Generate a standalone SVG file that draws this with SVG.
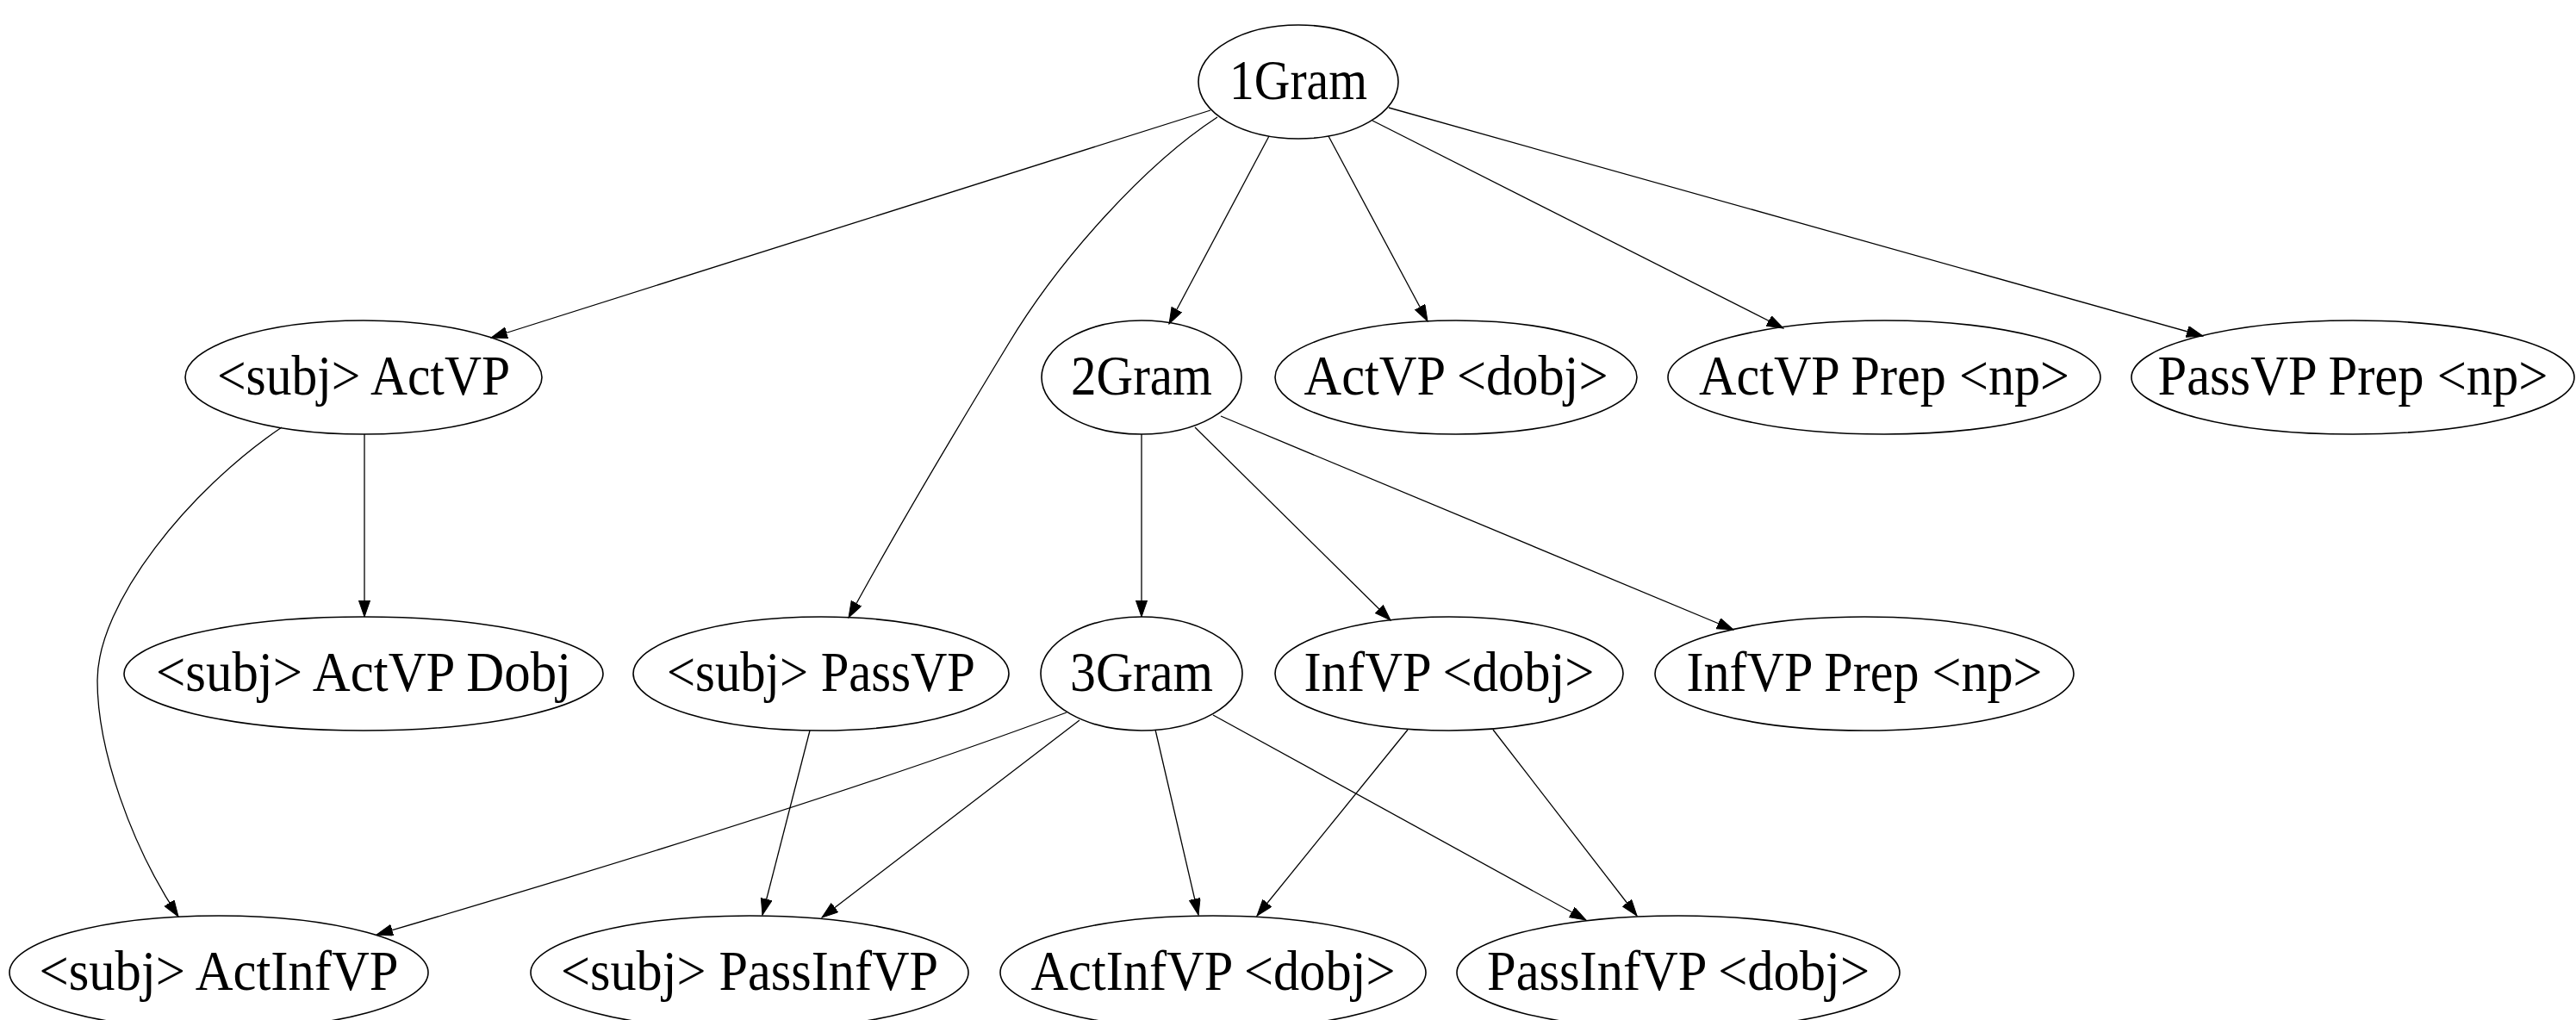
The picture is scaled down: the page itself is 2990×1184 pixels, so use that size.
<svg xmlns="http://www.w3.org/2000/svg" width="2990" height="1184" viewBox="0 0 2990 1184">
<style>
.n ellipse{fill:none;stroke:#000;stroke-width:1.6}
.n text{font-family:"Liberation Serif","Times New Roman",serif;font-size:65px;fill:#000;text-anchor:middle}
.e path{fill:none;stroke:#000;stroke-width:1.3;marker-end:url(#ah)}
</style>
<defs>
<marker id="ah" markerUnits="userSpaceOnUse" markerWidth="20" markerHeight="14" refX="19" refY="6.6" orient="auto">
<path d="M0,0 L19,6.6 L0,13.2 z" fill="#000" stroke="#000" stroke-width="1"/>
</marker>
</defs>
<rect width="2990" height="1184" fill="#fff"/>
<g id="edges" class="e">
<path d="M1405,128 L570,392"/>
<path d="M1413,136 C1330,190 1230,300 1170,400 C1100,515 1035,625 985,717"/>
<path d="M1473,158 L1357,376"/>
<path d="M1542,158 L1657,373"/>
<path d="M1593,140 L2070,381"/>
<path d="M1612,125 L2557,390"/>
<path d="M423,504 L423,716"/>
<path d="M327,496 C219,569 113,700 113,790 C113,870 152,981 207,1064"/>
<path d="M1325,504 L1325,716"/>
<path d="M1387,496 L1614,720"/>
<path d="M1417,483 L2012,731"/>
<path d="M940,848 L885,1062"/>
<path d="M1238,827 C988,920 693,1010 437,1085"/>
<path d="M1253,836 L954,1065"/>
<path d="M1341,847 L1391,1062"/>
<path d="M1408,830 L1841,1068"/>
<path d="M1634,847 L1459,1063"/>
<path d="M1733,847 L1900,1063"/>
</g>
<g id="n1gram" class="n"><ellipse cx="1507" cy="95" rx="116" ry="66"/><text x="1507" y="115" textLength="160" lengthAdjust="spacingAndGlyphs">1Gram</text></g>
<g id="subjActVP" class="n"><ellipse cx="422" cy="438" rx="207" ry="66"/><text x="422" y="458" textLength="340" lengthAdjust="spacingAndGlyphs">&lt;subj&gt; ActVP</text></g>
<g id="n2gram" class="n"><ellipse cx="1325" cy="438" rx="116" ry="66"/><text x="1325" y="458" textLength="164" lengthAdjust="spacingAndGlyphs">2Gram</text></g>
<g id="actVPdobj" class="n"><ellipse cx="1690" cy="438" rx="210" ry="66"/><text x="1690" y="458" textLength="353" lengthAdjust="spacingAndGlyphs">ActVP &lt;dobj&gt;</text></g>
<g id="actVPPrepNp" class="n"><ellipse cx="2187" cy="438" rx="251" ry="66"/><text x="2187" y="458" textLength="430" lengthAdjust="spacingAndGlyphs">ActVP Prep &lt;np&gt;</text></g>
<g id="passVPPrepNp" class="n"><ellipse cx="2731" cy="438" rx="257" ry="66"/><text x="2731" y="458" textLength="453" lengthAdjust="spacingAndGlyphs">PassVP Prep &lt;np&gt;</text></g>
<g id="subjActVPDobj" class="n"><ellipse cx="422" cy="782" rx="278" ry="66"/><text x="422" y="802" textLength="482" lengthAdjust="spacingAndGlyphs">&lt;subj&gt; ActVP Dobj</text></g>
<g id="subjPassVP" class="n"><ellipse cx="953" cy="782" rx="218" ry="66"/><text x="953" y="802" textLength="358" lengthAdjust="spacingAndGlyphs">&lt;subj&gt; PassVP</text></g>
<g id="n3gram" class="n"><ellipse cx="1325" cy="782" rx="117" ry="66"/><text x="1325" y="802" textLength="166" lengthAdjust="spacingAndGlyphs">3Gram</text></g>
<g id="infVPdobj" class="n"><ellipse cx="1682" cy="782" rx="202" ry="66"/><text x="1682" y="802" textLength="337" lengthAdjust="spacingAndGlyphs">InfVP &lt;dobj&gt;</text></g>
<g id="infVPPrepNp" class="n"><ellipse cx="2164" cy="782" rx="243" ry="66"/><text x="2164" y="802" textLength="413" lengthAdjust="spacingAndGlyphs">InfVP Prep &lt;np&gt;</text></g>
<g id="subjActInfVP" class="n"><ellipse cx="254" cy="1129" rx="243" ry="66"/><text x="254" y="1149" textLength="417" lengthAdjust="spacingAndGlyphs">&lt;subj&gt; ActInfVP</text></g>
<g id="subjPassInfVP" class="n"><ellipse cx="870" cy="1129" rx="254" ry="66"/><text x="870" y="1149" textLength="438" lengthAdjust="spacingAndGlyphs">&lt;subj&gt; PassInfVP</text></g>
<g id="actInfVPdobj" class="n"><ellipse cx="1408" cy="1129" rx="247" ry="66"/><text x="1408" y="1149" textLength="423" lengthAdjust="spacingAndGlyphs">ActInfVP &lt;dobj&gt;</text></g>
<g id="passInfVPdobj" class="n"><ellipse cx="1948" cy="1129" rx="257" ry="66"/><text x="1948" y="1149" textLength="444" lengthAdjust="spacingAndGlyphs">PassInfVP &lt;dobj&gt;</text></g>
</svg>
